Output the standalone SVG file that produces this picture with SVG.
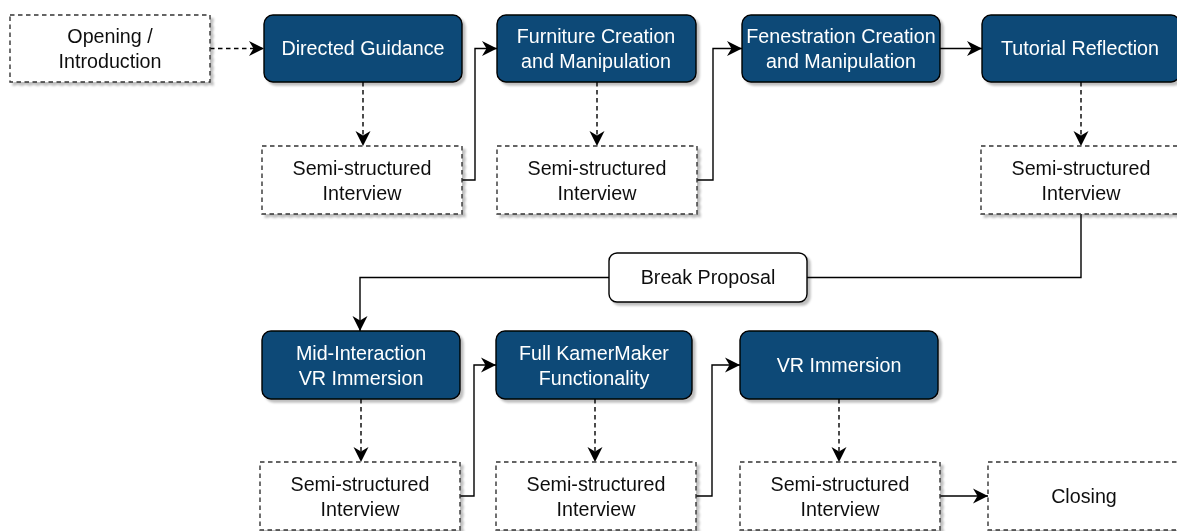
<svg xmlns="http://www.w3.org/2000/svg" width="1177" height="531" viewBox="0 0 1177 531">
<style>
.blue{fill:#0d4a77;stroke:#000;stroke-width:1.4}
.dash{fill:#fff;stroke:#333;stroke-width:1.4;stroke-dasharray:4.5 3.5}
.white{fill:#fff;stroke:#000;stroke-width:1.4}
.wt{font-family:"Liberation Sans",Arial,sans-serif;font-size:19.7px;fill:#fff;text-anchor:middle}
.bt{font-family:"Liberation Sans",Arial,sans-serif;font-size:19.7px;fill:#111;text-anchor:middle}
.c{fill:none;stroke:#000;stroke-width:1.4}
.cd{fill:none;stroke:#000;stroke-width:1.4;stroke-dasharray:4.5 3.5}
.sh{filter:url(#shadow)}
</style>
<defs>
<filter id="shadow" x="-10%" y="-10%" width="130%" height="140%">
<feDropShadow dx="3" dy="3" stdDeviation="1" flood-color="#000" flood-opacity="0.25"/>
</filter>
<marker id="arr" markerUnits="userSpaceOnUse" markerWidth="16" markerHeight="16" refX="15" refY="8" orient="auto" viewBox="0 0 16 16">
<path d="M0,0.5 L15,8 L0,15.5 L4.5,8 Z" fill="#000"/>
</marker>
</defs>
<g id="connectors">
<path class="cd" d="M210,48.5 H264" marker-end="url(#arr)"/>
<path class="cd" d="M363,82 V146" marker-end="url(#arr)"/>
<path class="c" d="M462,180 H475 V48.5 H497" marker-end="url(#arr)"/>
<path class="cd" d="M597,82 V146" marker-end="url(#arr)"/>
<path class="c" d="M697,180 H713 V48.5 H742" marker-end="url(#arr)"/>
<path class="c" d="M940,48.5 H982" marker-end="url(#arr)"/>
<path class="cd" d="M1081,82 V146" marker-end="url(#arr)"/>
<path class="c" d="M1081,214 V277.5 H807"/>
<path class="c" d="M609,277.5 H360 V331" marker-end="url(#arr)"/>
<path class="cd" d="M361,399 V462" marker-end="url(#arr)"/>
<path class="c" d="M460,496 H474 V365 H496" marker-end="url(#arr)"/>
<path class="cd" d="M595,399 V462" marker-end="url(#arr)"/>
<path class="c" d="M696,496 H712 V365 H740" marker-end="url(#arr)"/>
<path class="cd" d="M839,399 V462" marker-end="url(#arr)"/>
<path class="c" d="M940,496 H988" marker-end="url(#arr)"/>
</g>
<g id="opening" class="sh"><rect class="dash" x="10" y="15" width="200" height="67"/><text class="bt" x="110" y="43">Opening /</text><text class="bt" x="110" y="67.5">Introduction</text></g>
<g id="directed" class="sh"><rect class="blue" x="264" y="15" width="198" height="67" rx="9"/><text class="wt" x="363" y="55">Directed Guidance</text></g>
<g id="furniture" class="sh"><rect class="blue" x="497" y="15" width="199" height="67" rx="9"/><text class="wt" x="596" y="43">Furniture Creation</text><text class="wt" x="596" y="67.5">and Manipulation</text></g>
<g id="fenestration" class="sh"><rect class="blue" x="742" y="15" width="198" height="67" rx="9"/><text class="wt" x="841" y="43">Fenestration Creation</text><text class="wt" x="841" y="67.5">and Manipulation</text></g>
<g id="tutorial" class="sh"><rect class="blue" x="982" y="15" width="198" height="67" rx="9"/><text class="wt" x="1080" y="55">Tutorial Reflection</text></g>
<g id="ss1" class="sh"><rect class="dash" x="262" y="146" width="200" height="68"/><text class="bt" x="362" y="175">Semi-structured</text><text class="bt" x="362" y="199.5">Interview</text></g>
<g id="ss2" class="sh"><rect class="dash" x="497" y="146" width="200" height="68"/><text class="bt" x="597" y="175">Semi-structured</text><text class="bt" x="597" y="199.5">Interview</text></g>
<g id="ss4" class="sh"><rect class="dash" x="981" y="146" width="200" height="68"/><text class="bt" x="1081" y="175">Semi-structured</text><text class="bt" x="1081" y="199.5">Interview</text></g>
<g id="break" class="sh"><rect class="white" x="609" y="253" width="198" height="49" rx="8"/><text class="bt" x="708" y="284">Break Proposal</text></g>
<g id="mid" class="sh"><rect class="blue" x="262" y="331" width="198" height="68" rx="9"/><text class="wt" x="361" y="360">Mid-Interaction</text><text class="wt" x="361" y="384.5">VR Immersion</text></g>
<g id="full" class="sh"><rect class="blue" x="496" y="331" width="196" height="68" rx="9"/><text class="wt" x="594" y="360">Full KamerMaker</text><text class="wt" x="594" y="384.5">Functionality</text></g>
<g id="vr" class="sh"><rect class="blue" x="740" y="331" width="198" height="68" rx="9"/><text class="wt" x="839" y="372">VR Immersion</text></g>
<g id="ss5" class="sh"><rect class="dash" x="260" y="462" width="200" height="68"/><text class="bt" x="360" y="491">Semi-structured</text><text class="bt" x="360" y="515.5">Interview</text></g>
<g id="ss6" class="sh"><rect class="dash" x="496" y="462" width="200" height="68"/><text class="bt" x="596" y="491">Semi-structured</text><text class="bt" x="596" y="515.5">Interview</text></g>
<g id="ss7" class="sh"><rect class="dash" x="740" y="462" width="200" height="68"/><text class="bt" x="840" y="491">Semi-structured</text><text class="bt" x="840" y="515.5">Interview</text></g>
<g id="closing" class="sh"><rect class="dash" x="988" y="462" width="200" height="68"/><text class="bt" x="1084" y="503">Closing</text></g>
</svg>
